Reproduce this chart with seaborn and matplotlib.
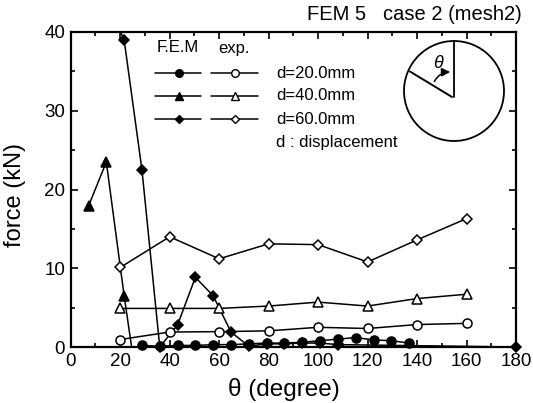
import numpy as np
import pandas as pd
import matplotlib
matplotlib.use("Agg")
import matplotlib.pyplot as plt
import seaborn as sns
from matplotlib.lines import Line2D
from matplotlib.patches import Circle, Rectangle, FancyArrowPatch

# ---------------- data ----------------
# FEM results (filled markers)
fem20_theta = [28.8, 36.0, 43.2, 50.4, 57.6, 64.8, 72.0, 79.2, 86.4, 93.6, 100.8, 108.0, 115.2, 122.4, 129.6, 136.8]
fem20_force = [0.2, 0.1, 0.2, 0.2, 0.3, 0.3, 0.4, 0.5, 0.5, 0.6, 0.8, 1.0, 1.2, 0.9, 0.8, 0.5]

fem40_theta = [7.2, 14.4, 21.6, 28.8]
fem40_force = [17.9, 23.5, 6.5, -9.0]

fem60_theta = [14.4, 21.6, 28.8, 36.0, 43.2, 50.4, 57.6, 64.8, 72.0, 79.2, 86.4, 93.6, 100.8, 108.0, 180.0]
fem60_force = [44.0, 39.0, 22.5, 0.0, 2.8, 8.85, 6.5, 1.9, 0.1, 0.4, 0.4, 0.5, 0.5, 0.3, 0.0]

# experimental results (open markers)
exp_theta = [20, 40, 60, 80, 100, 120, 140, 160]
exp20_force = [0.95, 1.9, 1.95, 2.05, 2.5, 2.35, 2.85, 3.0]
exp40_force = [4.9, 4.9, 4.9, 5.2, 5.7, 5.2, 6.15, 6.7]
exp60_force = [10.1, 14.0, 11.2, 13.1, 13.0, 10.8, 13.6, 16.3]

legend_labels = ["d=20.0mm", "d=40.0mm", "d=60.0mm"]
x_ticks = [0, 20, 40, 60, 80, 100, 120, 140, 160, 180]
y_ticks = [0, 10, 20, 30, 40]

# ---------------- style ----------------
sns.set_style("ticks")
plt.rcParams["font.family"] = ["Liberation Sans", "DejaVu Sans"]
for k in ["text.color", "axes.labelcolor", "xtick.color", "ytick.color", "axes.edgecolor"]:
    plt.rcParams[k] = "black"

W, H = 533, 403
fig = plt.figure(figsize=(W / 100, H / 100), dpi=100)
L, R, T, B = 70.7, 516.0, 32.0, 347.0
ax = fig.add_axes([L / W, (H - B) / H, (R - L) / W, (B - T) / H])

lw = 1.1
ms = 6.5
series = [
    (fem20_theta, fem20_force, "o", "black", "fem20"),
    (fem40_theta, fem40_force, "^", "black", "fem40"),
    (fem60_theta, fem60_force, "D", "black", "fem60"),
    (exp_theta, exp20_force, "o", "white", "exp20"),
    (exp_theta, exp40_force, "^", "white", "exp40"),
    (exp_theta, exp60_force, "D", "white", "exp60"),
]
for xs, ys, mk, fc, name in series:
    df = pd.DataFrame({"theta": xs, "force": ys})
    sns.lineplot(data=df, x="theta", y="force", ax=ax, color="black", lw=lw,
                 marker=mk, markersize=ms if mk != "D" else ms - 1.3,
                 markerfacecolor=fc, markeredgecolor="black", markeredgewidth=1.1,
                 sort=False, estimator=None, label=None)
    line = ax.lines[-1]
    line.set_gid(name)
    if name != "fem40":
        clip = Rectangle((-0.05, -0.03), 1.1, 1.03, transform=ax.transAxes,
                         facecolor="none", edgecolor="none")
        line.set_clip_path(clip)

if ax.get_legend() is not None:
    ax.get_legend().remove()

ax.set_xlim(0, 180)
ax.set_ylim(0, 40)
ax.set_xticks(x_ticks)
ax.set_xticks(np.arange(0, 181, 10), minor=True)
ax.set_yticks(y_ticks)
ax.set_yticks(np.arange(0, 41, 5), minor=True)
ax.tick_params(which="both", direction="in", top=True, right=True, width=1.2)
ax.tick_params(which="major", length=5, labelsize=13.5, pad=4)
ax.tick_params(which="minor", length=3)
for s in ax.spines.values():
    s.set_linewidth(1.6)
    s.set_visible(True)

ax.set_xlabel("θ (degree)", fontsize=17.5)
ax.set_ylabel("force (kN)", fontsize=17)
ax.xaxis.set_label_coords((283.5 - L) / (R - L), (B - 378) / (B - T))
ax.yaxis.set_label_coords((26 - L) / (R - L), (B - 195) / (B - T))

# title (top right)
fig.text(522 / W, 1 - 15 / H, "FEM 5   case 2 (mesh2)", fontsize=14.5,
         ha="right", va="center")

# ---------------- custom legend ----------------
def axc(px, py):
    return ((px - L) / (R - L), (B - py) / (B - T))

fs_leg = 12
ax.text(*axc(157, 48), "F.E.M", transform=ax.transAxes, fontsize=fs_leg, va="center", ha="left")
ax.text(*axc(218, 48), "exp.", transform=ax.transAxes, fontsize=fs_leg, va="center", ha="left")
rows_y = [73, 96, 119]
markers = ["o", "^", "D"]
for yy, mk, lab in zip(rows_y, markers, legend_labels):
    x0, y0 = axc(155, yy)
    x1, _ = axc(201, yy)
    xm, _ = axc(179, yy)
    ax.add_line(Line2D([x0, x1], [y0, y0], transform=ax.transAxes, color="black", lw=lw))
    ax.add_line(Line2D([xm], [y0], transform=ax.transAxes, marker=mk,
                       markersize=ms - 1 if mk != "D" else ms - 2, markerfacecolor="black",
                       markeredgecolor="black", ls="none"))
    x0, _ = axc(211, yy)
    x1, _ = axc(258, yy)
    xm, _ = axc(235, yy)
    ax.add_line(Line2D([x0, x1], [y0, y0], transform=ax.transAxes, color="black", lw=lw))
    ax.add_line(Line2D([xm], [y0], transform=ax.transAxes, marker=mk,
                       markersize=ms - 1 if mk != "D" else ms - 2, markerfacecolor="white",
                       markeredgecolor="black", markeredgewidth=1.0, ls="none"))
    ax.text(*axc(276, yy), lab, transform=ax.transAxes, fontsize=fs_leg, va="center", ha="left")
ax.text(*axc(276, 142), "d : displacement", transform=ax.transAxes, fontsize=fs_leg,
        va="center", ha="left")

# ---------------- inset sketch ----------------
ov = fig.add_axes([0, 0, 1, 1], zorder=5)
ov.set_xlim(0, W)
ov.set_ylim(H, 0)
ov.axis("off")
ov.patch.set_alpha(0)
ov.add_patch(Circle((454, 91), 50, facecolor="none", edgecolor="black", lw=1.3))
ov.plot([454, 454], [41, 97], color="black", lw=1.3)
ov.plot([452, 410], [97, 71.5], color="black", lw=1.4)
ov.add_patch(FancyArrowPatch((433, 84), (453, 72), connectionstyle="arc3,rad=-0.35",
                             arrowstyle="-|>,head_length=5,head_width=2.5", color="black", lw=1.1,
                             mutation_scale=1))
ov.text(438, 63, "θ", fontsize=13, ha="center", va="center", style="italic")

fig.savefig("out.png", dpi=100)
